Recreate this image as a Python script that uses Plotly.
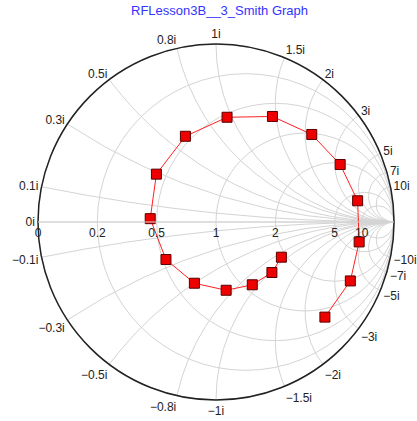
import plotly.graph_objects as go

# Impedance data (normalized)
real_vals = [1.88, 1.49, 1.10, 0.82, 0.63, 0.52, 0.46, 0.44, 0.46, 0.53,
             0.67, 1.03, 2.09, 6.3, 6.7, 1.89, 0.78]
imag_vals = [-0.90, -1.03, -0.93, -0.74, -0.50, -0.25, 0.02, 0.29, 0.60, 0.96,
             1.45, 2.16, 3.30, 4.26, -4.40, -3.90, -2.45]

real_ticks = [0, 0.2, 0.5, 1, 2, 5, 10]
imag_ticks = [-10, -7, -5, -3, -2, -1.5, -1, -0.8, -0.5, -0.3, -0.1, 0,
              0.1, 0.3, 0.5, 0.8, 1, 1.5, 2, 3, 5, 7, 10]

fig = go.Figure()
fig.add_trace(go.Scattersmith(
    real=real_vals, imag=imag_vals,
    mode="lines+markers",
    line=dict(color="#ff2020", width=1),
    marker=dict(symbol="square", size=10, color="#ee0000",
                line=dict(color="#5a0000", width=1)),
    showlegend=False,
))

# title as an annotation for precise placement
fig.add_annotation(text="RFLesson3B__3_Smith Graph", xref="paper", yref="paper",
                   x=0.511, y=1.095, xanchor="center", yanchor="middle",
                   showarrow=False, font=dict(size=13, color="#3333ff"))

# mask the automatic infinity label at the right end of the real axis
fig.add_annotation(text=" ", xref="paper", yref="paper",
                   x=1.006, y=0.5, xanchor="left", yanchor="middle",
                   width=20, height=14, bgcolor="white", borderpad=0,
                   showarrow=False)

fig.update_layout(
    width=417, height=421,
    margin=dict(l=38, r=23, t=44, b=21),
    paper_bgcolor="white",
    font=dict(family="Liberation Sans, Arial, sans-serif", size=12, color="#222"),
    smith=dict(
        bgcolor="white",
        realaxis=dict(tickvals=real_ticks, side="bottom", tickangle=0,
                      gridcolor="#d4d4d4", linecolor="#d4d4d4",
                      tickfont=dict(size=12, color="#222")),
        imaginaryaxis=dict(tickvals=imag_ticks, ticksuffix="i",
                           gridcolor="#d4d4d4", linecolor="#222", linewidth=1.5,
                           tickfont=dict(size=12, color="#222")),
    ),
)

fig.write_html("out.html", config={"displayModeBar": False},
               post_script="document.body.style.margin='0';")
